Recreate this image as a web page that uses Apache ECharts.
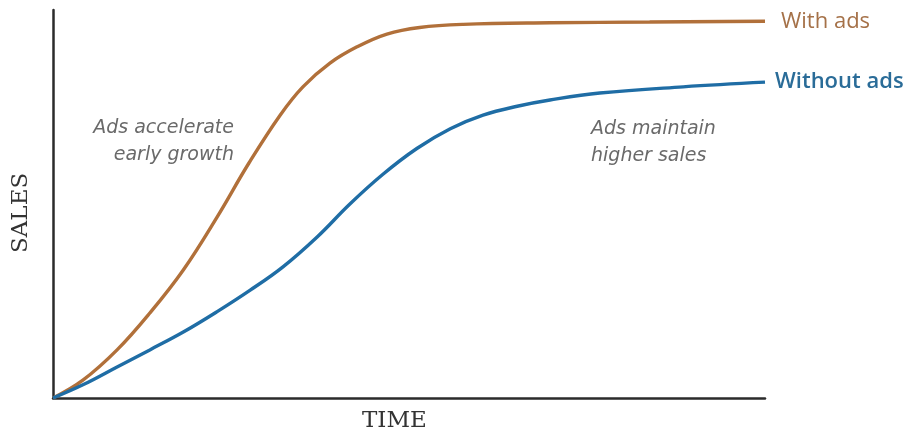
<!DOCTYPE html>
<html>
<head>
<meta charset="utf-8">
<script src="https://cdn.jsdelivr.net/npm/echarts@6/dist/echarts.min.js"></script>
<style>html,body{margin:0;padding:0;background:#fff}#c{width:911px;height:436px}</style>
</head>
<body>
<div id="c"></div>
<script>
const seriesNames = ['With ads', 'Without ads'];
const withAdsT = [0, 4.2, 9.0, 13.6, 18.3, 23.0, 27.5, 31.9, 35.1, 38.9, 42.7, 46.9, 51.5, 57.6, 69.8, 83.8, 100];
const withAdsV = [0, 4.6, 12.4, 21.9, 33.0, 46.5, 60.5, 72.9, 80.2, 86.3, 90.5, 93.8, 95.5, 96.3, 96.7, 96.9, 97.1];
const withoutAdsT = [0, 4.2, 9.0, 13.6, 18.3, 23.0, 27.7, 32.3, 37.1, 41.7, 46.3, 51.1, 55.8, 60.4, 65.2, 69.8, 76.8, 88.5, 100];
const withoutAdsV = [0, 3.4, 8.0, 12.4, 17.0, 22.2, 27.8, 33.8, 41.5, 50.0, 57.6, 64.3, 69.4, 72.9, 75.2, 76.8, 78.6, 80.2, 81.4];
const axisTitles = { x: 'TIME', y: 'SALES' };
const notes = [['Ads accelerate', 'early growth'], ['Ads maintain', 'higher sales']];

const pairs = (t, v) => t.map((x, i) => [x, v[i]]);
const chart = echarts.init(document.getElementById('c'));
const noteFont = 'oblique 19px "DejaVu Sans", "Open Sans", sans-serif';
const titleFont = '23px "DejaVu Serif", "Liberation Serif", serif';
chart.setOption({
  animation: false,
  grid: { left: 53, right: 146, top: 10, bottom: 38 },
  xAxis: {
    type: 'value', min: 0, max: 100,
    axisLine: { show: true, lineStyle: { color: '#2b2b2b', width: 2.5 } },
    axisTick: { show: false }, axisLabel: { show: false }, splitLine: { show: false }
  },
  yAxis: {
    type: 'value', min: 0, max: 100,
    axisLine: { show: true, lineStyle: { color: '#2b2b2b', width: 2.5 } },
    axisTick: { show: false }, axisLabel: { show: false }, splitLine: { show: false }
  },
  series: [
    {
      name: seriesNames[0], type: 'line', smooth: 0.4, showSymbol: false, z: 3,
      data: pairs(withAdsT, withAdsV),
      lineStyle: { color: '#B1703A', width: 3.4 },
      endLabel: { show: true, formatter: '{a}', distance: 16, color: '#A57148',
        fontFamily: '"Open Sans", Lato, sans-serif', fontSize: 22, fontWeight: 500 }
    },
    {
      name: seriesNames[1], type: 'line', smooth: 0.4, showSymbol: false, z: 3,
      data: pairs(withoutAdsT, withoutAdsV),
      lineStyle: { color: '#1F6DA5', width: 3.4 },
      endLabel: { show: true, formatter: '{a}', distance: 10, color: '#2A6C98',
        fontFamily: '"Open Sans", Lato, sans-serif', fontSize: 22, fontWeight: 600 }
    }
  ],
  graphic: [
    { type: 'text', left: 362, top: 410, style: { text: axisTitles.x, font: titleFont, fill: '#333' } },
    { type: 'text', x: 10, y: 253, rotation: Math.PI / 2, style: { text: axisTitles.y, font: titleFont, fill: '#333' } },
    { type: 'text', x: 234, y: 115, style: { text: notes[0].join('\n'), font: noteFont, fill: '#6a6a6a', align: 'right', lineHeight: 27 } },
    { type: 'text', x: 591, y: 116, style: { text: notes[1].join('\n'), font: noteFont, fill: '#6a6a6a', align: 'left', lineHeight: 27 } }
  ]
});
</script>
</body>
</html>
